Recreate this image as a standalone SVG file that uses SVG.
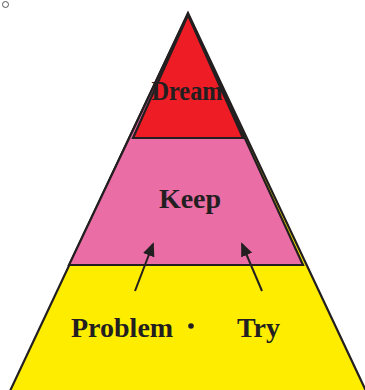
<svg xmlns="http://www.w3.org/2000/svg" width="365" height="390" viewBox="0 0 365 390">
<style>
.edge{stroke:#231f20;stroke-width:2.2;stroke-linejoin:miter}
.lbl{font-family:"Liberation Serif","Times New Roman",serif;font-weight:bold;font-size:28px;fill:#231f20}
.arr{stroke:#231f20;stroke-width:2;fill:none}
</style>
<defs>
<marker id="ah" markerWidth="14" markerHeight="12" refX="12" refY="6" orient="auto" markerUnits="userSpaceOnUse" viewBox="0 0 14 12">
<path d="M0,0 L14,6 L0,12 Z" fill="#231f20"/>
</marker>
</defs>
<rect width="365" height="390" fill="#ffffff"/>
<circle cx="5.5" cy="4.5" r="3" fill="none" stroke="#555" stroke-width="1"/>
<g id="problem-try">
<polygon class="edge" points="188,13 10,391 366,391" fill="#ffed00"/>
<text class="lbl" x="71" y="337">Problem</text>
<circle cx="191" cy="326" r="2.8" fill="#231f20"/>
<text class="lbl" x="237" y="337">Try</text>
</g>
<g id="keep">
<polygon class="edge" points="188,14 69,265 303,265" fill="#ea6da6"/>
<text class="lbl" x="190" y="208" text-anchor="middle">Keep</text>
</g>
<g id="dream">
<polygon class="edge" points="188,15 133,138 243,138" fill="#ee1c25"/>
<text class="lbl" x="187" y="100" text-anchor="middle" font-size="27" textLength="71" lengthAdjust="spacingAndGlyphs">Dream</text>
</g>
<g id="connectors">
<line class="arr" x1="135" y1="291" x2="153" y2="244" marker-end="url(#ah)"/>
<line class="arr" x1="262" y1="291" x2="242" y2="244" marker-end="url(#ah)"/>
</g>
</svg>
